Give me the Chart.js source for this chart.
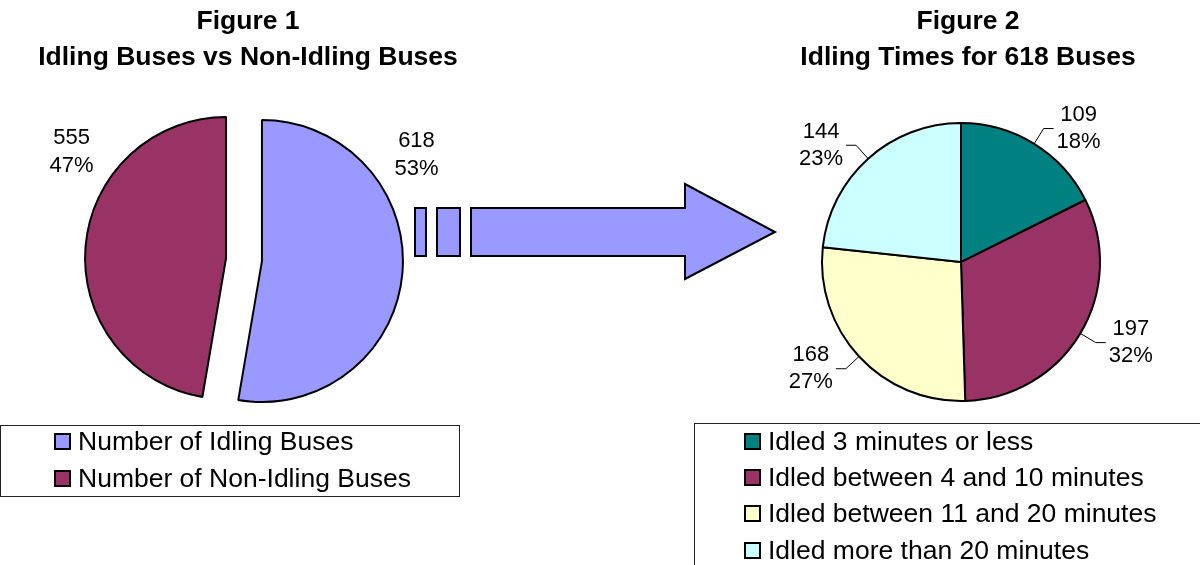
<!DOCTYPE html>
<html>
<head>
<meta charset="utf-8">
<script src="https://cdn.jsdelivr.net/npm/chart.js@4.4.1/dist/chart.umd.min.js"></script>
<style>
  html, body { margin: 0; padding: 0; background: #fff; }
  body { width: 1200px; height: 565px; position: relative; overflow: hidden; font-family: 'Liberation Sans', Arial, sans-serif; }
  canvas { position: absolute; top: 0; }
  #fig1 { left: 0; }
  #fig2 { left: 740px; }
  .legend-box { position: absolute; border: 1px solid #222; box-sizing: border-box; }
  #box1 { left: 0; top: 425px; width: 460px; height: 72px; }
  #box2 { left: 694px; top: 423px; width: 520px; height: 160px; }
  .legend-items { position: absolute; }
  #legend1 { left: 54px; top: 423px; }
  #legend2 { left: 744px; top: 423px; }
  .item { display: flex; align-items: center; font-size: 26.5px; color: #000; white-space: nowrap; }
  #legend1 .item { height: 37px; }
  #legend2 .item { height: 36.4px; }
  .swatch { width: 13px; height: 13px; border: 2px solid #000; margin-right: 7px; flex: none; }
</style>
</head>
<body>
<canvas id="fig1" width="800" height="443"></canvas>
<canvas id="fig2" width="460" height="448"></canvas>
<div class="legend-box" id="box1"></div>
<div class="legend-box" id="box2"></div>
<div class="legend-items" id="legend1"></div>
<div class="legend-items" id="legend2"></div>
<script>
const fig1Title = ['Figure 1', 'Idling Buses vs Non-Idling Buses']
const fig1Labels = ['Number of Idling Buses', 'Number of Non-Idling Buses']
const fig1Values = [618, 555]
const fig1Colors = ['#9999FF', '#993366']

const fig2Title = ['Figure 2', 'Idling Times for 618 Buses']
const fig2Labels = [
  'Idled 3 minutes or less',
  'Idled between 4 and 10 minutes',
  'Idled between 11 and 20 minutes',
  'Idled more than 20 minutes'
]
const fig2Values = [109, 197, 168, 144]
const fig2Colors = ['#008080', '#993366', '#FFFFCC', '#CCFFFF']

const FONT = '"Liberation Sans", Arial, sans-serif'

// nudges the pie off the title centre, pulls slices apart
// and writes "value / percent" labels next to them
const sliceLabels = {
  id: 'sliceLabels',
  afterDatasetUpdate(chart, args, opts) {
    const explode = opts.explode || 0
    args.meta.data.forEach(arc => {
      const mid = (arc.startAngle + arc.endAngle) / 2
      arc.x += Math.cos(mid) * explode + (opts.dx || 0)
      arc.y += Math.sin(mid) * explode
    })
  },
  afterDatasetsDraw(chart, args, opts) {
    const { ctx } = chart
    const meta = chart.getDatasetMeta(0)
    const values = chart.data.datasets[0].data
    const total = values.reduce((a, b) => a + b, 0)
    ctx.save()
    ctx.font = '22px ' + FONT
    ctx.fillStyle = '#000'
    ctx.textBaseline = 'middle'
    ctx.textAlign = 'center'
    meta.data.forEach((arc, i) => {
      const lines = [String(values[i]), Math.round(values[i] / total * 100) + '%']
      const blockW = Math.max(...lines.map(t => ctx.measureText(t).width))
      const mid = (arc.startAngle + arc.endAngle) / 2
      const cos = Math.cos(mid)
      const sin = Math.sin(mid)
      const r = arc.outerRadius
      const side = cos >= 0 ? 1 : -1
      let cx, cy
      if (opts.mode === 'leader') {
        const x0 = arc.x + cos * r
        const y0 = arc.y + sin * r
        const x1 = arc.x + cos * (r + opts.reach)
        const y1 = arc.y + sin * (r + opts.reach)
        const x2 = x1 + side * opts.tail
        ctx.beginPath()
        ctx.moveTo(x0, y0)
        ctx.lineTo(x1, y1)
        ctx.lineTo(x2, y1)
        ctx.strokeStyle = '#000'
        ctx.lineWidth = 1
        ctx.stroke()
        cx = x2 + side * (3 + blockW / 2)
        cy = y1
      } else {
        cx = arc.x + cos * r * opts.reach
        cy = arc.y - r * opts.lift
      }
      ctx.fillText(lines[0], cx, cy - opts.lineGap / 2)
      ctx.fillText(lines[1], cx, cy + opts.lineGap / 2)
    })
    ctx.restore()
  }
}

// block arrow from figure 1 towards figure 2
const arrowPlugin = {
  id: 'arrow',
  afterDraw(chart) {
    const ctx = chart.ctx
    ctx.save()
    ctx.fillStyle = '#9999FF'
    ctx.strokeStyle = '#000'
    ctx.lineWidth = 2
    ctx.lineJoin = 'miter'
    const top = 208, bottom = 256
    ;[[415, 426], [437, 460]].forEach(([a, b]) => {
      ctx.beginPath()
      ctx.rect(a, top, b - a, bottom - top)
      ctx.fill()
      ctx.stroke()
    })
    ctx.beginPath()
    ctx.moveTo(471, top)
    ctx.lineTo(685, top)
    ctx.lineTo(685, 184)
    ctx.lineTo(775, 232)
    ctx.lineTo(685, 279)
    ctx.lineTo(685, bottom)
    ctx.lineTo(471, bottom)
    ctx.closePath()
    ctx.fill()
    ctx.stroke()
    ctx.restore()
  }
}

function pieConfig(title, labels, values, colors, radius, rightPad, labelOpts, extra = []) {
  return {
    type: 'pie',
    data: {
      labels,
      datasets: [{
        data: values,
        backgroundColor: colors,
        borderColor: '#000',
        borderWidth: 2,
        radius
      }]
    },
    options: {
      responsive: false,
      animation: false,
      events: [],
      layout: { padding: { right: rightPad } },
      plugins: {
        legend: { display: false },
        tooltip: { enabled: false },
        title: {
          display: true,
          text: title,
          color: '#000',
          font: { family: FONT, size: 26.5, weight: 'bold', lineHeight: 1.36 },
          padding: { top: 4, bottom: 0 }
        },
        sliceLabels: labelOpts
      }
    },
    plugins: [sliceLabels, ...extra]
  }
}

new Chart(document.getElementById('fig1'),
  pieConfig(fig1Title, fig1Labels, fig1Values, fig1Colors, 141, 304,
    { mode: 'side', explode: 18, dx: -4, reach: 1.1, lift: 0.75, lineGap: 28 }, [arrowPlugin]))

new Chart(document.getElementById('fig2'),
  pieConfig(fig2Title, fig2Labels, fig2Values, fig2Colors, 139, 4,
    { mode: 'leader', explode: 0, dx: -7, reach: 18, tail: 10, lineGap: 27 }))

function buildLegend(id, labels, colors) {
  const box = document.getElementById(id)
  labels.forEach((text, i) => {
    const row = document.createElement('div')
    row.className = 'item'
    const sw = document.createElement('span')
    sw.className = 'swatch'
    sw.style.background = colors[i]
    row.appendChild(sw)
    row.appendChild(document.createTextNode(text))
    box.appendChild(row)
  })
}
buildLegend('legend1', fig1Labels, fig1Colors)
buildLegend('legend2', fig2Labels, fig2Colors)
</script>
</body>
</html>
